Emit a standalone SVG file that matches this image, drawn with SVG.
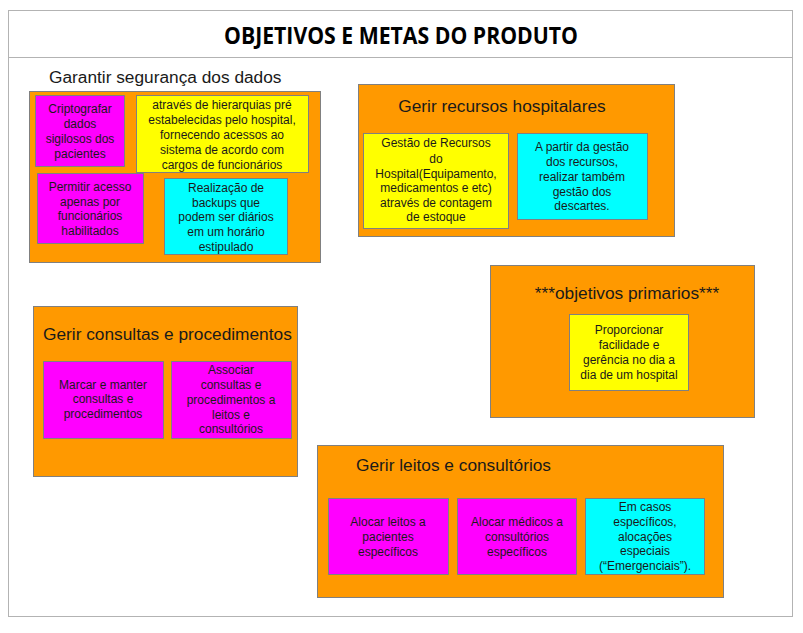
<svg xmlns="http://www.w3.org/2000/svg" width="803" height="633" viewBox="0 0 803 633">
<style>
.frame{fill:#fff;stroke:#b3b3b3;stroke-width:1}
.grp{fill:#ff9900;stroke:#808080;stroke-width:1}
.mag{fill:#ff00ff;stroke:#808080;stroke-width:1}
.yel{fill:#ffff00;stroke:#808080;stroke-width:1}
.cya{fill:#00ffff;stroke:#808080;stroke-width:1}
.title{font-family:"Open Sans","Liberation Sans",sans-serif;font-weight:bold;font-size:23px;fill:#000}
.gt{font-family:"Liberation Sans",Arial,sans-serif;font-size:17.3px;fill:#1a1a1a}
.bt{font-family:"Liberation Sans",Arial,sans-serif;font-size:12px;fill:#1a1a1a;text-anchor:middle}
</style>
<rect width="803" height="633" fill="#fff"/>
<g id="frame">
<rect class="frame" x="8.5" y="10.5" width="784" height="606"/>
<line x1="8.5" y1="57.5" x2="792.5" y2="57.5" stroke="#b3b3b3"/>
<text class="title" x="401" y="44" text-anchor="middle" textLength="354" lengthAdjust="spacingAndGlyphs">OBJETIVOS E METAS DO PRODUTO</text>
</g>
<g id="g-seguranca">
<text class="gt" x="49" y="83">Garantir segurança dos dados</text>
<rect class="grp" x="29.5" y="91.5" width="291" height="171"/>
<rect class="mag" x="35.5" y="95.5" width="89" height="71"/>
<text class="bt"><tspan x="80" y="113">Criptografar</tspan><tspan x="80" y="128">dados</tspan><tspan x="80" y="143">sigilosos dos</tspan><tspan x="80" y="158">pacientes</tspan></text>
<rect class="yel" x="136.5" y="95.5" width="172" height="77"/>
<text class="bt"><tspan x="222" y="109">através de hierarquias pré</tspan><tspan x="222" y="124">estabelecidas pelo hospital,</tspan><tspan x="222" y="139">fornecendo acessos ao</tspan><tspan x="222" y="154">sistema de acordo com</tspan><tspan x="222" y="169">cargos de funcionários</tspan></text>
<rect class="mag" x="37.5" y="173.5" width="106" height="70"/>
<text class="bt"><tspan x="90" y="191">Permitir acesso</tspan><tspan x="90" y="206">apenas por</tspan><tspan x="90" y="220">funcionários</tspan><tspan x="90" y="235">habilitados</tspan></text>
<rect class="cya" x="164.5" y="178.5" width="123" height="76"/>
<text class="bt"><tspan x="226" y="192">Realização de</tspan><tspan x="226" y="207">backups que</tspan><tspan x="226" y="221">podem ser diários</tspan><tspan x="226" y="236">em um horário</tspan><tspan x="226" y="251">estipulado</tspan></text>
</g>
<g id="g-recursos">
<rect class="grp" x="358.5" y="84.5" width="316" height="152"/>
<text class="gt" x="502" y="112" text-anchor="middle">Gerir recursos hospitalares</text>
<rect class="yel" x="363.5" y="133.5" width="145" height="95"/>
<text class="bt"><tspan x="436" y="147">Gestão de Recursos</tspan><tspan x="436" y="163">do</tspan><tspan x="436" y="178">Hospital(Equipamento,</tspan><tspan x="436" y="192">medicamentos e etc)</tspan><tspan x="436" y="207">através de contagem</tspan><tspan x="436" y="221">de estoque</tspan></text>
<rect class="cya" x="517.5" y="133.5" width="130" height="86"/>
<text class="bt"><tspan x="582" y="151">A partir da gestão</tspan><tspan x="582" y="166">dos recursos,</tspan><tspan x="582" y="181">realizar também</tspan><tspan x="582" y="196">gestão dos</tspan><tspan x="582" y="210">descartes.</tspan></text>
</g>
<g id="g-primarios">
<rect class="grp" x="490.5" y="265.5" width="264" height="152"/>
<text class="gt" x="627" y="299" text-anchor="middle">***objetivos primarios***</text>
<rect class="yel" x="569.5" y="314.5" width="119" height="76"/>
<text class="bt"><tspan x="629" y="334">Proporcionar</tspan><tspan x="629" y="349">facilidade e</tspan><tspan x="629" y="364">gerência no dia a</tspan><tspan x="629" y="379">dia de um hospital</tspan></text>
</g>
<g id="g-consultas">
<rect class="grp" x="33.5" y="306.5" width="264" height="170"/>
<text class="gt" x="43" y="340">Gerir consultas e procedimentos</text>
<rect class="mag" x="43.5" y="361.5" width="120" height="77"/>
<text class="bt"><tspan x="103" y="389">Marcar e manter</tspan><tspan x="103" y="403">consultas e</tspan><tspan x="103" y="418">procedimentos</tspan></text>
<rect class="mag" x="171.5" y="361.5" width="120" height="77"/>
<text class="bt"><tspan x="231" y="374">Associar</tspan><tspan x="231" y="389">consultas e</tspan><tspan x="231" y="404">procedimentos a</tspan><tspan x="231" y="419">leitos e</tspan><tspan x="231" y="433">consultórios</tspan></text>
</g>
<g id="g-leitos">
<rect class="grp" x="317.5" y="445.5" width="406" height="152"/>
<text class="gt" x="356" y="471">Gerir leitos e consultórios</text>
<rect class="mag" x="328.5" y="498.5" width="120" height="76"/>
<text class="bt"><tspan x="388" y="526">Alocar leitos a</tspan><tspan x="388" y="541">pacientes</tspan><tspan x="388" y="556">específicos</tspan></text>
<rect class="mag" x="457.5" y="498.5" width="119" height="76"/>
<text class="bt"><tspan x="517" y="526">Alocar médicos a</tspan><tspan x="517" y="541">consultórios</tspan><tspan x="517" y="556">específicos</tspan></text>
<rect class="cya" x="585.5" y="498.5" width="119" height="76"/>
<text class="bt"><tspan x="645" y="511">Em casos</tspan><tspan x="645" y="526">específicos,</tspan><tspan x="645" y="541">alocações</tspan><tspan x="645" y="555">especiais</tspan><tspan x="645" y="570">(“Emergenciais”).</tspan></text>
</g>
<g id="connectors"></g>
</svg>
